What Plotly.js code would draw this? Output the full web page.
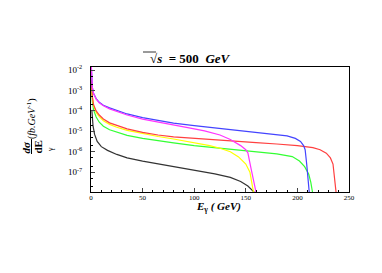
<!DOCTYPE html>
<html><head><meta charset="utf-8">
<script src="https://cdn.plot.ly/plotly-3.0.1.min.js"></script>
<style>html,body{margin:0;padding:0;background:#fff}</style>
</head><body>
<div id="chart" style="width:382px;height:273px"></div>
<script>
const blueE = [0.3,0.7,1.3,2.5,5,8,12,18,25,35,50,65,80,100,120,140,160,180,190,198,203,206,207.5,209,210.5,211.5];
const blueY = [1.58e-2,5.0e-3,1.41e-3,7.1e-4,4.0e-4,2.63e-4,1.9e-4,1.41e-4,1.05e-4,7.1e-5,4.7e-5,3.4e-5,2.5e-5,1.9e-5,1.48e-5,1.17e-5,9.3e-6,7.2e-6,6.0e-6,4.5e-6,3.2e-6,2.0e-6,1.26e-6,2.5e-7,4.0e-8,1e-8];
const magE = [0.3,0.7,1.3,2.5,5,8,12,18,25,35,50,65,80,95,110,125,135,145,150,152,155,158,160];
const magY = [1.58e-2,5.0e-3,1.41e-3,7.1e-4,3.8e-4,2.5e-4,1.78e-4,1.26e-4,9.3e-5,6.3e-5,4.0e-5,2.8e-5,2.1e-5,1.48e-5,1.05e-5,6.6e-6,4.0e-6,2.0e-6,1.26e-6,8.9e-7,1.6e-7,3.2e-8,1e-8];
const redE = [0.3,0.7,1.3,2.5,5,8,12,18,25,35,50,65,80,100,120,140,160,180,200,215,222,228,232,234.5,236,237.5];
const redY = [3.5e-3,1.6e-3,5.0e-4,2.0e-4,1.0e-4,6.3e-5,4.0e-5,2.6e-5,1.9e-5,1.32e-5,8.9e-6,6.6e-6,5.4e-6,4.5e-6,3.8e-6,3.3e-6,2.8e-6,2.4e-6,2.0e-6,1.58e-6,1.26e-6,8.5e-7,5.0e-7,2.5e-7,6.3e-8,1e-8];
const yelE = [0.3,0.7,1.3,2.5,5,8,12,18,25,35,50,65,80,100,115,125,135,143,150,154,156,157.5];
const yelY = [3.2e-3,1.41e-3,4.5e-4,1.78e-4,8.5e-5,5.2e-5,3.3e-5,2.2e-5,1.58e-5,1.12e-5,7.6e-6,5.6e-6,4.2e-6,2.8e-6,2.0e-6,1.48e-6,1.0e-6,5.6e-7,2.5e-7,1.0e-7,3.2e-8,1e-8];
const grnE = [0.3,0.7,1.3,2.5,5,8,12,18,25,35,50,65,80,100,120,140,160,180,195,202,207,211,213,214.7];
const grnY = [2.0e-3,8.9e-4,2.8e-4,1.12e-4,5.0e-5,2.8e-5,1.78e-5,1.2e-5,8.9e-6,6.3e-6,4.5e-6,3.4e-6,2.7e-6,2.0e-6,1.58e-6,1.26e-6,1.0e-6,7.9e-7,5.8e-7,3.5e-7,1.86e-7,7.9e-8,3.2e-8,1e-8];
const blkE = [0.8,1.2,2,3.5,6,10,16,25,35,50,65,80,100,120,135,145,152,156,158.5];
const blkY = [1.12e-4,5.0e-5,1.78e-5,7.1e-6,3.2e-6,1.78e-6,1.17e-6,7.4e-7,5.0e-7,3.5e-7,2.6e-7,1.9e-7,1.26e-7,8.3e-8,5.6e-8,3.5e-8,2.1e-8,1.3e-8,1e-8];

const yTickVals = [1e-2,1e-3,1e-4,1e-5,1e-6,1e-7];
const yTickText = ['10<sup>-2</sup>','10<sup>-3</sup>','10<sup>-4</sup>','10<sup>-5</sup>','10<sup>-6</sup>','10<sup>-7</sup>'];
const xTickVals = [0,50,100,150,200,250];

const F = 'Liberation Serif, Times New Roman, serif';
function tr(x,y,c){return {x:x,y:y,type:'scatter',mode:'lines',line:{color:c,width:1.2},hoverinfo:'skip'};}
const data = [
  tr(blkE,blkY,'#333333'),
  tr(grnE,grnY,'#33ff33'),
  tr(yelE,yelY,'#ffff00'),
  tr(redE,redY,'#ff4040'),
  tr(blueE,blueY,'#4444ff'),
  tr(magE,magY,'#ff33ff')
];
function px(x){return (x-91)/258;}
function py(y){return (192-y)/125;}
function ann(x,y,text,size,extra){
  return Object.assign({xref:'paper',yref:'paper',x:px(x),y:py(y),text:text,showarrow:false,
    xanchor:'center',yanchor:'middle',font:{family:F,size:size,color:'#000'}},extra||{});
}
const layout = {
  width:382,height:273,
  margin:{l:91,r:33,t:67,b:81},
  paper_bgcolor:'#fff',plot_bgcolor:'#fff',
  showlegend:false,
  font:{family:F,size:8,color:'#000'},
  xaxis:{range:[0,250],tickvals:xTickVals,ticks:'inside',ticklen:4,tickwidth:1,
    showline:true,mirror:true,linecolor:'#000',linewidth:1,showgrid:false,zeroline:false,
    tickfont:{family:F,size:7},ticklabelstandoff:-1,
    minor:{ticks:'inside',ticklen:2,dtick:10,tickcolor:'#000',showgrid:false}},
  yaxis:{type:'log',range:[-7.97,-1.85],tickvals:yTickVals,ticktext:yTickText,ticks:'inside',ticklen:4,
    showline:true,mirror:true,linecolor:'#000',linewidth:1,showgrid:false,zeroline:false,
    tickfont:{family:F,size:9},ticklabelstandoff:6,
    minor:{ticks:'inside',ticklen:2,tickcolor:'#000',showgrid:false}},
  shapes:[
    {type:'line',xref:'paper',yref:'paper',x0:px(31.5),x1:px(31.5),y0:py(139),y1:py(154),line:{color:'#000',width:1}},
    {type:'line',xref:'paper',yref:'paper',x0:px(143),x1:px(156),y0:py(52),y1:py(52),line:{color:'#000',width:0.8}}
  ],
  annotations:[
    ann(190,59,'√<i>s</i>  = 500  <i>GeV</i>',13,{font:{family:F,size:13,color:'#000',weight:'bold'}}),
    ann(25.5,147,'<i>dσ</i>',11,{textangle:-90,font:{family:F,size:11,color:'#000',weight:'bold'}}),
    ann(37.5,147,'dE',11,{textangle:-90,font:{family:F,size:11,color:'#000',weight:'bold'}}),
    ann(50,150,'γ',8,{textangle:-90}),
    ann(31,119,'(<i>fb.GeV</i><sup>-1</sup>)',10,{textangle:-90}),
    ann(218,207,'<i>E</i><sub>γ</sub><i> ( GeV)</i>',11,{font:{family:F,size:11,color:'#000',weight:'bold'}})
  ]
};
Plotly.newPlot('chart',data,layout,{staticPlot:true,displayModeBar:false});
</script>
</body></html>
